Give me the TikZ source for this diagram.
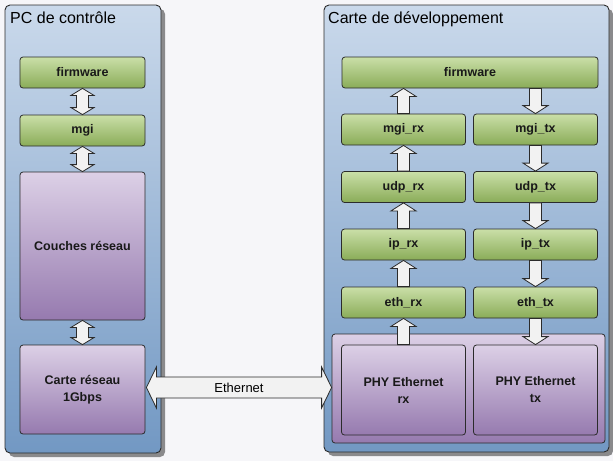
\documentclass[tikz,border=0pt]{standalone}
\usepackage{fontspec}
\setmainfont{Liberation Sans}
\usetikzlibrary{calc,shadows}

\definecolor{bgcol}{HTML}{F6F6F9}
\definecolor{paneltop}{HTML}{CAD9EB}
\definecolor{panelbot}{HTML}{7298C3}
\definecolor{greentop}{HTML}{CADFA8}
\definecolor{greenbot}{HTML}{8AAC58}
\definecolor{purptop}{HTML}{DCD0E6}
\definecolor{purpbot}{HTML}{967AAF}
\definecolor{edgecol}{HTML}{2B2B2B}
\definecolor{arrfill}{HTML}{F2F2F2}

\tikzset{
  panel/.style={draw=edgecol, line width=0.9pt, rounded corners=5pt,
    top color=paneltop, bottom color=panelbot,
    drop shadow={shadow xshift=4pt, shadow yshift=-4pt, opacity=0.55, fill=black!80},
    inner sep=0pt},
  greenbox/.style={draw=edgecol, line width=0.8pt, rounded corners=3pt,
    top color=greentop, bottom color=greenbot,
    font=\fontsize{12.5}{14}\selectfont\bfseries, text=black!90,
    minimum height=31pt, inner sep=0pt, align=center},
  purplebox/.style={draw=edgecol, line width=0.8pt, rounded corners=3pt,
    top color=purptop, bottom color=purpbot,
    font=\fontsize{12.5}{17}\selectfont\bfseries, text=black!90,
    inner sep=0pt, align=center},
  paneltitle/.style={anchor=base west, font=\fontsize{16}{18}\selectfont, inner sep=0pt},
  blockarr/.style={draw=edgecol, line width=0.8pt, fill=arrfill, line join=miter},
}

% single block arrow from tail (#1) to tip (#2), vertical
\newcommand{\flowarrow}[2]{%
  \draw[blockarr] let \p1=(#1), \p2=(#2), \n1={ifthenelse(\y2>\y1,8,-8)} in
    (\x1-6pt,\y1) -- (\x1-6pt,\y2-\n1) -- (\x1-12.5pt,\y2-\n1) -- (\x1,\y2)
    -- (\x1+12.5pt,\y2-\n1) -- (\x1+6pt,\y2-\n1) -- (\x1+6pt,\y1) -- cycle;}

% double block arrow between (#1) and (#2), vertical
\newcommand{\bothwaysarrow}[2]{%
  \draw[blockarr] let \p1=(#1), \p2=(#2), \n1={ifthenelse(\y2>\y1,7,-7)} in
    (\x1,\y1) -- (\x1+11.5pt,\y1+\n1) -- (\x1+6pt,\y1+\n1) -- (\x1+6pt,\y2-\n1)
    -- (\x1+11.5pt,\y2-\n1) -- (\x1,\y2) -- (\x1-11.5pt,\y2-\n1) -- (\x1-6pt,\y2-\n1)
    -- (\x1-6pt,\y1+\n1) -- (\x1-11.5pt,\y1+\n1) -- cycle;}

\begin{document}
\begin{tikzpicture}[x=1pt,y=-1pt]
  \path[use as bounding box, fill=bgcol] (0,0) rectangle (613,461);

  % ---- panels ----
  \node[panel, minimum width=156pt, minimum height=448pt] (panelL) at (83,229) {};
  \node[panel, minimum width=285pt, minimum height=447pt] (panelR) at (466.5,228.5) {};
  \node[paneltitle] (titleL) at (10,23) {PC de contrôle};
  \node[paneltitle] (titleR) at (328,23) {Carte de développement};

  % ---- PC side ----
  \node[greenbox, minimum width=125pt] (fwL) at (82.5,72.5) {firmware};
  \node[greenbox, minimum width=125pt] (mgiL) at (82.5,130.5) {mgi};
  \node[purplebox, minimum width=125pt, minimum height=148pt] (netL) at (82.5,246) {Couches réseau};
  \node[purplebox, minimum width=125pt, minimum height=89pt] (cardL) at (82.5,389.5) {Carte réseau\\1Gbps};

  \bothwaysarrow{fwL.south}{mgiL.north}
  \bothwaysarrow{mgiL.south}{netL.north}
  \bothwaysarrow{netL.south}{cardL.north}

  % ---- board side ----
  \node[greenbox, minimum width=256pt] (fwR) at (470,72.5) {firmware};
  \node[greenbox, minimum width=124pt] (mgirx) at (403.5,129.5) {mgi\_rx};
  \node[greenbox, minimum width=124pt] (mgitx) at (535.5,129.5) {mgi\_tx};
  \node[greenbox, minimum width=124pt] (udprx) at (403.5,187) {udp\_rx};
  \node[greenbox, minimum width=124pt] (udptx) at (535.5,187) {udp\_tx};
  \node[greenbox, minimum width=124pt] (iprx) at (403.5,244.5) {ip\_rx};
  \node[greenbox, minimum width=124pt] (iptx) at (535.5,244.5) {ip\_tx};
  \node[greenbox, minimum width=124pt] (ethrx) at (403.5,302.5) {eth\_rx};
  \node[greenbox, minimum width=124pt] (ethtx) at (535.5,302.5) {eth\_tx};

  \node[purplebox, minimum width=273pt, minimum height=109pt] (phy) at (468.5,388.5) {};
  \node[purplebox, minimum width=124pt, minimum height=90pt] (phyrx) at (403.5,390) {PHY Ethernet\\rx};
  \node[purplebox, minimum width=124pt, minimum height=90pt] (phytx) at (535.5,390) {PHY Ethernet\\tx};

  % receive path (upwards)
  \flowarrow{phyrx.north}{ethrx.south}
  \flowarrow{ethrx.north}{iprx.south}
  \flowarrow{iprx.north}{udprx.south}
  \flowarrow{udprx.north}{mgirx.south}
  \flowarrow{mgirx.north}{mgirx.north |- fwR.south}

  % transmit path (downwards)
  \flowarrow{mgitx.north |- fwR.south}{mgitx.north}
  \flowarrow{mgitx.south}{udptx.north}
  \flowarrow{udptx.south}{iptx.north}
  \flowarrow{iptx.south}{ethtx.north}
  \flowarrow{ethtx.south}{phytx.north}

  % ---- Ethernet link ----
  \coordinate (linkL) at ($(cardL.east)+(1,-2)$);
  \coordinate (linkR) at (linkL -| phy.west);
  \draw[blockarr] let \p1=(linkL), \p2=(linkR) in
    (\x1,\y1) -- (\x1+10pt,\y1+20.5pt) -- (\x1+10pt,\y1+10.5pt) -- (\x2-10pt,\y1+10.5pt)
    -- (\x2-10pt,\y1+20.5pt) -- (\x2,\y2) -- (\x2-10pt,\y1-20.5pt) -- (\x2-10pt,\y1-10.5pt)
    -- (\x1+10pt,\y1-10.5pt) -- (\x1+10pt,\y1-20.5pt) -- cycle;
  \node[font=\fontsize{13}{15}\selectfont, inner sep=0pt] (ethlbl) at ($(linkL)!0.5!(linkR)$) {Ethernet};
\end{tikzpicture}
\end{document}
